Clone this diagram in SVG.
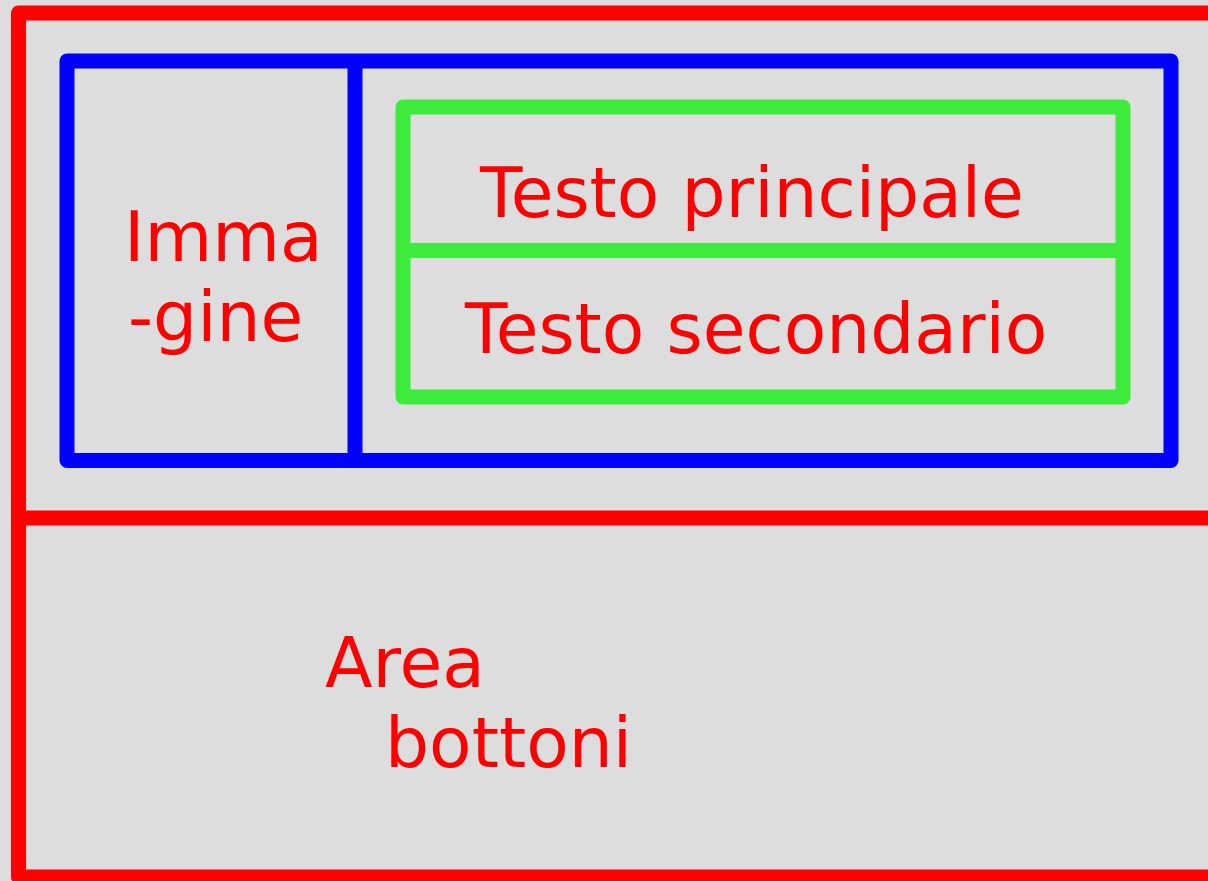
<svg xmlns="http://www.w3.org/2000/svg" width="1208" height="881" viewBox="0 0 1208 881">
<style>
.box{fill:none;stroke-width:15;stroke-linejoin:round}
.red{stroke:#ff0000}
.blue{stroke:#0000ff}
.green{stroke:#3deb3d}
.lbl{font-family:"DejaVu Sans","Liberation Sans",sans-serif;font-size:69.5px;fill:#ff0000}
</style>
<rect x="0" y="0" width="1208" height="881" fill="#dddddd"/>
<g id="card">
<rect class="box red" x="18.5" y="13" width="1230" height="864"/>
<line class="box red" x1="18.5" y1="518" x2="1240" y2="518"/>
</g>
<g id="header">
<rect class="box blue" x="67" y="61" width="1104" height="399.5"/>
<line class="box blue" x1="355" y1="61" x2="355" y2="460.5"/>
</g>
<g id="image">
<text class="lbl" x="124" y="261">Imma</text>
<text class="lbl" x="128" y="341">-gine</text>
</g>
<g id="texts">
<rect class="box green" x="403" y="107" width="720" height="290"/>
<line class="box green" x1="403" y1="250.5" x2="1123" y2="250.5"/>
</g>
<g id="main-text">
<text class="lbl" x="480" y="217">Testo principale</text>
</g>
<g id="secondary-text">
<text class="lbl" x="465" y="353">Testo secondario</text>
</g>
<g id="buttons">
<text class="lbl" x="325" y="687">Area</text>
<text class="lbl" x="385" y="767">bottoni</text>
</g>
<g id="connectors"></g>
</svg>
